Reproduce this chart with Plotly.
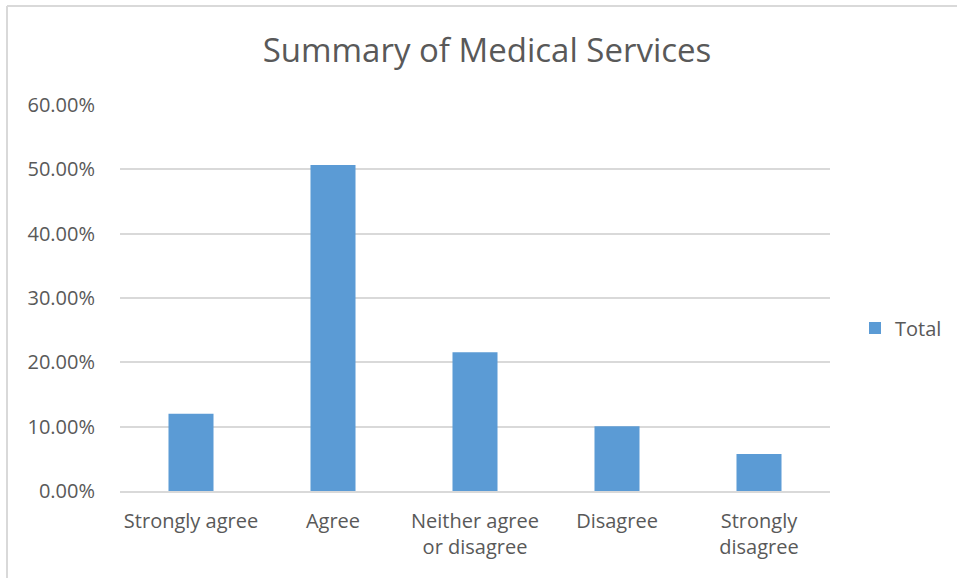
import plotly.graph_objects as go

categories = ["Strongly agree", "Agree", "Neither agree<br>or disagree", "Disagree", "Strongly<br>disagree"]
totals = [0.1200, 0.5067, 0.2157, 0.1006, 0.0575]
y_ticks = [0, 0.1, 0.2, 0.3, 0.4, 0.5, 0.6]

TEXT = "#595959"
GRID = "#d9d9d9"
BAR = "#5B9BD5"
FONT = "Open Sans"

W, H = 957, 578
L, R, T, B = 120, 127, 105, 87
pw, ph = W - L - R, H - T - B

def px(x):
    return (x - L) / pw

def py(y):
    return (H - B - y) / ph

fig = go.Figure()
fig.add_trace(go.Bar(x=categories, y=totals, name="Total", marker_color=BAR,
                     marker_line_width=0, showlegend=True))

fig.update_layout(
    width=W, height=H,
    margin=dict(l=L, r=R, t=T, b=B, autoexpand=False),
    paper_bgcolor="white", plot_bgcolor="white",
    font=dict(family=FONT, color=TEXT, size=20),
    title=dict(text="Summary of Medical Services", x=px(487), xref="paper", xanchor="center",
               y=1 - 50 / H, yanchor="middle", font=dict(size=33, color=TEXT, family=FONT)),
    bargap=0.683,
    showlegend=True,
    legend=dict(x=px(855), xanchor="left", y=py(328), yanchor="middle",
                font=dict(size=20, color=TEXT), bgcolor="rgba(0,0,0,0)"),
    xaxis=dict(showgrid=False, showline=True, linecolor=GRID, linewidth=1.5, ticks="",
               tickfont=dict(size=20, color=TEXT), ticklabelstandoff=11, fixedrange=True),
    yaxis=dict(range=[0, 0.6], tickvals=y_ticks, tickformat=".2%", showgrid=True,
               gridcolor=GRID, gridwidth=1.5, zeroline=False, showline=False, ticks="",
               tickfont=dict(size=20, color=TEXT), ticklabelstandoff=24, fixedrange=True),
    shapes=[
        dict(type="line", xref="paper", yref="paper", x0=px(7), x1=px(W + 5), y0=py(6), y1=py(6),
             line=dict(color=GRID, width=2)),
        dict(type="line", xref="paper", yref="paper", x0=px(7), x1=px(7), y0=py(6), y1=py(H + 5),
             line=dict(color=GRID, width=2)),
    ],
)

fig.write_html(
    "out.html",
    config={"responsive": False, "displayModeBar": False},
    post_script="document.body.style.margin='0';document.body.style.overflow='hidden';",
)
